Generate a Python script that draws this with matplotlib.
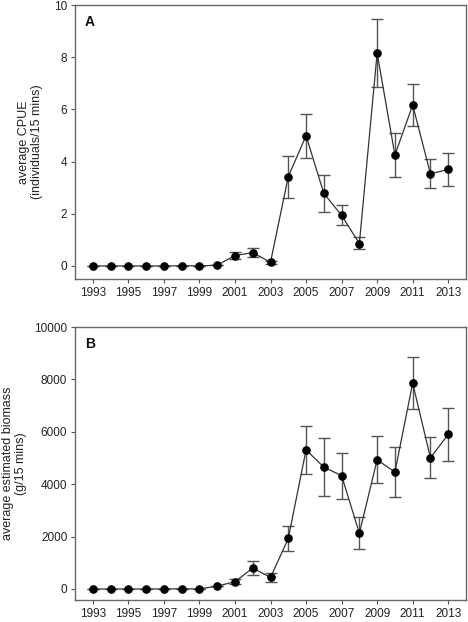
import matplotlib
matplotlib.use("Agg")
import matplotlib.pyplot as plt
import numpy as np

plt.rcParams['font.family'] = ['Liberation Sans', 'DejaVu Sans']

years = list(range(1993, 2014))

cpue = [0, 0, 0, 0, 0, 0.01, 0, 0.03, 0.40, 0.51, 0.14, 3.42, 4.99, 2.78, 1.94, 0.86, 8.16, 4.25, 6.17, 3.53, 3.70]
cpue_lo = [0, 0, 0, 0, 0, 0, 0, 0, 0.13, 0.18, 0.05, 0.82, 0.86, 0.70, 0.37, 0.22, 1.32, 0.86, 0.80, 0.56, 0.65]
cpue_hi = [0, 0, 0, 0, 0, 0, 0, 0, 0.14, 0.19, 0.05, 0.80, 0.85, 0.70, 0.38, 0.25, 1.32, 0.84, 0.79, 0.55, 0.64]

biomass = [0, 0, 0, 0, 0, 10, 0, 110, 277, 800, 441, 1929, 5309, 4653, 4325, 2131, 4931, 4464, 7856, 5006, 5902]
biomass_lo = [0, 0, 0, 0, 0, 0, 0, 0, 100, 270, 190, 491, 908, 1122, 882, 593, 870, 971, 983, 756, 1022]
biomass_hi = [0, 0, 0, 0, 0, 0, 0, 0, 100, 272, 152, 480, 908, 1110, 870, 605, 895, 958, 996, 795, 1008]

xticks = list(range(1993, 2014, 2))
panels = [
    dict(y=cpue, lo=cpue_lo, hi=cpue_hi, ylim=(-0.5, 10), yticks=[0, 2, 4, 6, 8, 10],
         ylabel="average CPUE\n(individuals/15 mins)", tag="A"),
    dict(y=biomass, lo=biomass_lo, hi=biomass_hi, ylim=(-420, 10000), yticks=[0, 2000, 4000, 6000, 8000, 10000],
         ylabel="average estimated biomass\n(g/15 mins)", tag="B"),
]

fig = plt.figure(figsize=(4.68, 6.22), dpi=100)
W, H = 468, 622
boxes = [(75, 5, 466, 279), (75, 327, 466, 600)]
label_right = [43, 27]

for p, (l, t, r, b), lx in zip(panels, boxes, label_right):
    ax = fig.add_axes([l / W, 1 - b / H, (r - l) / W, (b - t) / H])
    ax.errorbar(years, p['y'], yerr=[p['lo'], p['hi']], fmt='none', ecolor='#555555',
                elinewidth=1.0, capsize=4, capthick=1.0, zorder=2)
    ax.plot(years, p['y'], '-', color='#333333', lw=0.9, zorder=3)
    ax.plot(years, p['y'], 'o', color='black', ms=5.2, zorder=4)
    ax.set_xlim(1992, 2014)
    ax.set_ylim(*p['ylim'])
    ax.set_xticks(xticks)
    ax.set_yticks(p['yticks'])
    ax.tick_params(direction='out', length=3, width=0.8, color='#555555', labelsize=8.5,
                   labelcolor='#222222', pad=2.5)
    for s in ax.spines.values():
        s.set_color('#666666')
        s.set_linewidth(1.0)
    ax.text(0.025, 0.965, p['tag'], transform=ax.transAxes, fontsize=10, fontweight='bold',
            va='top', ha='left', color='#111111')
    ax.set_ylabel(p['ylabel'], fontsize=9, color='#222222', linespacing=1.1)
    ax.yaxis.set_label_coords((lx - l) / (r - l), 0.5)

fig.savefig("out.png", dpi=100)
